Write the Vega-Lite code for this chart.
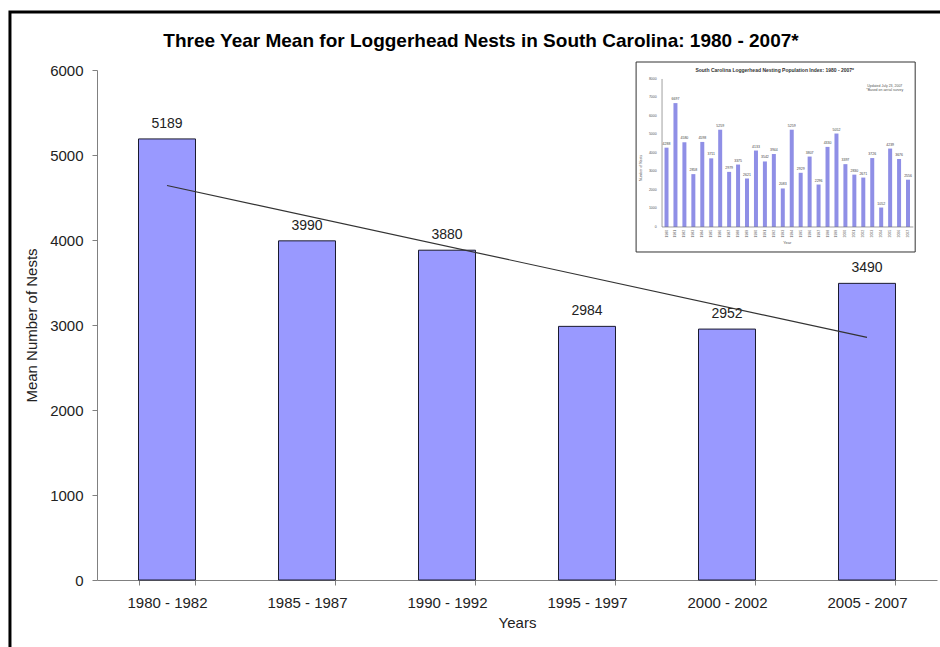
{
  "$schema": "https://vega.github.io/schema/vega-lite/v6.json",
  "width": 840,
  "height": 510,
  "autosize": {"type": "none"},
  "padding": {"left": 97, "top": 70, "right": 3, "bottom": 67},
  "background": "white",
  "config": {
    "view": {"stroke": null},
    "font": "Liberation Sans",
    "axis": {
      "labelFont": "Liberation Sans",
      "titleFont": "Liberation Sans",
      "labelFontSize": 15,
      "titleFontSize": 15,
      "titleFontWeight": "normal",
      "labelColor": "#222",
      "titleColor": "#222",
      "domainColor": "#808080",
      "tickColor": "#808080",
      "tickSize": 5,
      "grid": false
    }
  },
  "title": {
    "text": "Three Year Mean for Loggerhead Nests in South Carolina: 1980 - 2007*",
    "font": "Liberation Sans",
    "fontSize": 19,
    "fontWeight": "bold",
    "color": "#000",
    "offset": -40,
    "dx": -36
  },
  "datasets": {
    "means": [
      {"period": "1980 - 1982", "nests": 5189},
      {"period": "1985 - 1987", "nests": 3990},
      {"period": "1990 - 1992", "nests": 3880},
      {"period": "1995 - 1997", "nests": 2984},
      {"period": "2000 - 2002", "nests": 2952},
      {"period": "2005 - 2007", "nests": 3490}
    ],
    "trend": [
      {"period": "1980 - 1982", "trend": 4641},
      {"period": "2005 - 2007", "trend": 2854}
    ],
    "annual": [
      {"year": 1980, "nests": 4288}, {"year": 1981, "nests": 6697},
      {"year": 1982, "nests": 4580}, {"year": 1983, "nests": 2858},
      {"year": 1984, "nests": 4598}, {"year": 1985, "nests": 3711},
      {"year": 1986, "nests": 5259}, {"year": 1987, "nests": 2979},
      {"year": 1988, "nests": 3375}, {"year": 1989, "nests": 2621},
      {"year": 1990, "nests": 4133}, {"year": 1991, "nests": 3542},
      {"year": 1992, "nests": 3944}, {"year": 1993, "nests": 2083},
      {"year": 1994, "nests": 5259}, {"year": 1995, "nests": 2929},
      {"year": 1996, "nests": 3807}, {"year": 1997, "nests": 2296},
      {"year": 1998, "nests": 4330}, {"year": 1999, "nests": 5052},
      {"year": 2000, "nests": 3397}, {"year": 2001, "nests": 2830},
      {"year": 2002, "nests": 2671}, {"year": 2003, "nests": 3726},
      {"year": 2004, "nests": 1052}, {"year": 2005, "nests": 4239},
      {"year": 2006, "nests": 3676}, {"year": 2007, "nests": 2556}
    ],
    "insetTicks": [
      {"v": 0}, {"v": 1000}, {"v": 2000}, {"v": 3000}, {"v": 4000},
      {"v": 5000}, {"v": 6000}, {"v": 7000}, {"v": 8000}
    ]
  },
  "layer": [
    {
      "data": {"name": "means"},
      "encoding": {
        "x": {
          "field": "period",
          "type": "nominal",
          "sort": null,
          "scale": {"paddingInner": 0.593, "paddingOuter": 0.2965},
          "axis": {"title": "Years", "labelAngle": 0, "tickBand": "extent", "labelPadding": 10, "titlePadding": 5}
        },
        "y": {
          "field": "nests",
          "type": "quantitative",
          "scale": {"domain": [0, 6000], "nice": false},
          "axis": {"title": "Mean Number of Nests", "format": "d", "values": [0, 1000, 2000, 3000, 4000, 5000, 6000], "labelPadding": 9, "titlePadding": 10}
        }
      },
      "layer": [
        {"mark": {"type": "bar", "fill": "#9999FF", "stroke": "#1a1a2e", "strokeWidth": 1}},
        {
          "mark": {"type": "text", "baseline": "bottom", "dy": -8, "fontSize": 14, "color": "#222"},
          "encoding": {"text": {"field": "nests", "type": "quantitative", "format": "d"}}
        },
        {
          "data": {"name": "trend"},
          "mark": {"type": "line", "color": "#333", "strokeWidth": 1.2},
          "encoding": {"y": {"field": "trend", "type": "quantitative"}}
        }
      ]
    },
    {
      "layer": [
        {
          "data": {"values": [{}]},
          "mark": {"type": "rect", "fill": null, "fillOpacity": 0, "stroke": "#000", "strokeWidth": 3},
          "encoding": {
            "x": {"datum": 1906.6, "type": "quantitative", "scale": {"domain": [1916.33, 2010.24], "nice": false, "zero": false, "padding": 0}, "axis": null},
            "x2": {"datum": 2012},
            "y": {"datum": 11621, "type": "quantitative", "scale": {"domain": [-19081, 8486], "nice": false, "zero": false, "padding": 0}, "axis": null},
            "y2": {"datum": -23406}
          }
        },
        {
          "data": {"values": [{}]},
          "mark": {"type": "rect", "fill": "white", "stroke": "#333", "strokeWidth": 1},
          "encoding": {
            "x": {"datum": 1976.6, "type": "quantitative"},
            "x2": {"datum": 2007.8},
            "y": {"datum": 8918, "type": "quantitative"},
            "y2": {"datum": -1351}
          }
        },
        {
          "data": {"name": "annual"},
          "mark": {"type": "bar", "size": 4, "fill": "#8f8fe6"},
          "encoding": {
            "x": {"field": "year", "type": "quantitative"},
            "y": {"field": "nests", "type": "quantitative"},
            "y2": {"datum": 0}
          }
        },
        {
          "data": {"name": "annual"},
          "mark": {"type": "text", "fontSize": 3.5, "baseline": "bottom", "dy": -2, "color": "#444"},
          "encoding": {
            "x": {"field": "year", "type": "quantitative"},
            "y": {"field": "nests", "type": "quantitative"},
            "text": {"field": "nests", "type": "quantitative", "format": "d"}
          }
        },
        {
          "data": {"name": "annual"},
          "mark": {"type": "text", "fontSize": 3.5, "angle": 270, "align": "right", "baseline": "middle", "color": "#555"},
          "encoding": {
            "x": {"field": "year", "type": "quantitative"},
            "y": {"datum": -150, "type": "quantitative"},
            "text": {"field": "year", "type": "quantitative", "format": "d"}
          }
        },
        {
          "data": {"name": "insetTicks"},
          "mark": {"type": "text", "fontSize": 3.5, "align": "right", "baseline": "middle", "color": "#555"},
          "encoding": {
            "x": {"datum": 1978.9, "type": "quantitative"},
            "y": {"field": "v", "type": "quantitative"},
            "text": {"field": "v", "type": "quantitative", "format": "d"}
          }
        },
        {
          "data": {"values": [{}]},
          "mark": {"type": "rule", "color": "#777", "strokeWidth": 0.7},
          "encoding": {
            "x": {"datum": 1979.5, "type": "quantitative"},
            "y": {"datum": 0, "type": "quantitative"},
            "y2": {"datum": 8000}
          }
        },
        {
          "data": {"values": [{}]},
          "mark": {"type": "rule", "color": "#777", "strokeWidth": 0.7},
          "encoding": {
            "x": {"datum": 1979.5, "type": "quantitative"},
            "x2": {"datum": 2007.6},
            "y": {"datum": 0, "type": "quantitative"}
          }
        },
        {
          "data": {"values": [{"t": "South Carolina Loggerhead Nesting Population Index: 1980 - 2007*"}]},
          "mark": {"type": "text", "fontSize": 5, "fontWeight": "bold", "color": "#333"},
          "encoding": {
            "x": {"datum": 1992.1, "type": "quantitative"},
            "y": {"datum": 8486, "type": "quantitative"},
            "text": {"field": "t"}
          }
        },
        {
          "data": {"values": [{"t": ["Updated July 23, 2007", "*Based on aerial survey"]}]},
          "mark": {"type": "text", "fontSize": 3.5, "color": "#555", "lineHeight": 4},
          "encoding": {
            "x": {"datum": 2004.4, "type": "quantitative"},
            "y": {"datum": 7621, "type": "quantitative"},
            "text": {"field": "t"}
          }
        },
        {
          "data": {"values": [{"t": "Number of Nests"}]},
          "mark": {"type": "text", "fontSize": 3.5, "angle": 270, "color": "#555"},
          "encoding": {
            "x": {"datum": 1977.15, "type": "quantitative"},
            "y": {"datum": 3189, "type": "quantitative"},
            "text": {"field": "t"}
          }
        },
        {
          "data": {"values": [{"t": "Year"}]},
          "mark": {"type": "text", "fontSize": 4, "color": "#555"},
          "encoding": {
            "x": {"datum": 1993.5, "type": "quantitative"},
            "y": {"datum": -865, "type": "quantitative"},
            "text": {"field": "t"}
          }
        }
      ]
    }
  ],
  "resolve": {"scale": {"x": "independent", "y": "independent"}}
}
